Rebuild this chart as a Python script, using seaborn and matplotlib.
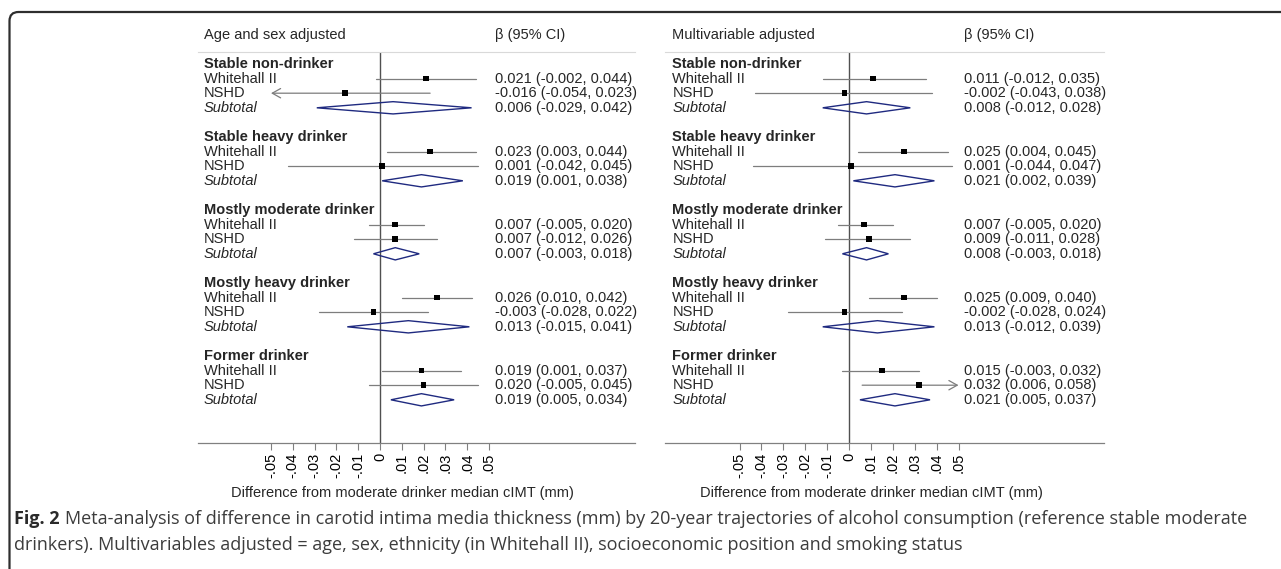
import matplotlib
matplotlib.use("Agg")
import matplotlib.pyplot as plt
import matplotlib.patches as mpatches
from matplotlib.transforms import IdentityTransform
import pandas as pd
import seaborn as sns

# Data: for every group the rows are Whitehall II, NSHD, Subtotal
groups = ["Stable non-drinker", "Stable heavy drinker", "Mostly moderate drinker",
          "Mostly heavy drinker", "Former drinker"]
studies = ["Whitehall II", "NSHD", "Subtotal"]

age_sex_est = [0.021, -0.016, 0.006, 0.023, 0.001, 0.019, 0.007, 0.007, 0.007,
               0.026, -0.003, 0.013, 0.019, 0.020, 0.019]
age_sex_lo = [-0.002, -0.054, -0.029, 0.003, -0.042, 0.001, -0.005, -0.012, -0.003,
              0.010, -0.028, -0.015, 0.001, -0.005, 0.005]
age_sex_hi = [0.044, 0.023, 0.042, 0.044, 0.045, 0.038, 0.020, 0.026, 0.018,
              0.042, 0.022, 0.041, 0.037, 0.045, 0.034]

multi_est = [0.011, -0.002, 0.008, 0.025, 0.001, 0.021, 0.007, 0.009, 0.008,
             0.025, -0.002, 0.013, 0.015, 0.032, 0.021]
multi_lo = [-0.012, -0.043, -0.012, 0.004, -0.044, 0.002, -0.005, -0.011, -0.003,
            0.009, -0.028, -0.012, -0.003, 0.006, 0.005]
multi_hi = [0.035, 0.038, 0.028, 0.045, 0.047, 0.039, 0.020, 0.028, 0.018,
            0.040, 0.024, 0.039, 0.032, 0.058, 0.037]

panel_titles = ["Age and sex adjusted", "Multivariable adjusted"]
tick_values = [-0.05, -0.04, -0.03, -0.02, -0.01, 0, 0.01, 0.02, 0.03, 0.04, 0.05]
tick_labels = ["-.05", "-.04", "-.03", "-.02", "-.01", "0", ".01", ".02", ".03", ".04", ".05"]
x_label = "Difference from moderate drinker median cIMT (mm)"
caption_bold = "Fig. 2"
caption_1 = ("Meta-analysis of difference in carotid intima media thickness (mm) by 20-year "
             "trajectories of alcohol consumption (reference stable moderate")
caption_2 = ("drinkers). Multivariables adjusted = age, sex, ethnicity (in Whitehall II), "
             "socioeconomic position and smoking status")


def make_frame(est, lo, hi):
    rows = []
    for i, (e, l, h) in enumerate(zip(est, lo, hi)):
        g, s = divmod(i, 3)
        rows.append({"group": groups[g], "study": studies[s], "est": e, "lo": l, "hi": h,
                     "row": 5 * g + 1 + s})
    return pd.DataFrame(rows)


panels = [make_frame(age_sex_est, age_sex_lo, age_sex_hi),
          make_frame(multi_est, multi_lo, multi_hi)]

sns.set_theme(style="white")
plt.rcParams["font.family"] = ["Liberation Sans", "DejaVu Sans"]

W, H = 1281, 569
fig = plt.figure(figsize=(W / 100, H / 100), dpi=100)

# pixel layout: (left, right, zero line, px per unit) of each plot area
layouts = [(198, 635, 380, 2180), (665, 1104, 849, 2190)]
top_px, bottom_px, row0_px, row_step = 52, 443, 64, 14.6
CLIP = 0.05
label_x, est_x = -0.0807, 0.0527
FS = 10.5
ci_color = "#7d7d7d"
diamond_color = "#1f2a80"

for ax_i, (df, title) in enumerate(zip(panels, panel_titles)):
    x0, x1, zero, scale = layouts[ax_i]
    ax = fig.add_axes([x0 / W, (H - bottom_px) / H, (x1 - x0) / W, (bottom_px - top_px) / H])
    ax.set_xlim(-(zero - x0) / scale, (x1 - zero) / scale)
    ax.set_ylim((bottom_px - row0_px) / row_step, (top_px - row0_px) / row_step)

    ax.axvline(0, color="#505050", lw=1.0, zorder=1)

    single = df[df["study"] != "Subtotal"]
    for _, r in single.iterrows():
        if r["lo"] < -CLIP:
            ax.annotate("", xy=(-CLIP, r["row"]), xytext=(r["hi"], r["row"]),
                        arrowprops=dict(arrowstyle="->,head_length=0.5,head_width=0.28",
                                        color=ci_color, lw=0.9, shrinkA=0, shrinkB=0))
        elif r["hi"] > CLIP:
            ax.annotate("", xy=(CLIP, r["row"]), xytext=(r["lo"], r["row"]),
                        arrowprops=dict(arrowstyle="->,head_length=0.5,head_width=0.28",
                                        color=ci_color, lw=0.9, shrinkA=0, shrinkB=0))
        else:
            ax.plot([r["lo"], r["hi"]], [r["row"], r["row"]], color=ci_color, lw=0.9, zorder=2)
    sns.scatterplot(data=single, x="est", y="row", marker="s", color="black", s=17,
                    edgecolor="none", legend=False, ax=ax, zorder=3)

    subtotal = df[df["study"] == "Subtotal"]
    for _, r in subtotal.iterrows():
        y = r["row"]
        ax.add_patch(mpatches.Polygon([(r["lo"], y), (r["est"], y - 0.42), (r["hi"], y),
                                       (r["est"], y + 0.42)], closed=True, fill=False,
                                      edgecolor=diamond_color, lw=1.0, zorder=3))

    # text columns
    ax.text(label_x, -2, title, fontsize=FS, va="center", ha="left", clip_on=False)
    ax.text(est_x, -2, "β (95% CI)", fontsize=FS, va="center", ha="left", clip_on=False)
    for g_i, g in enumerate(groups):
        ax.text(label_x, 5 * g_i, g, fontsize=FS, fontweight="bold", va="center", ha="left")
    for _, r in df.iterrows():
        style = "italic" if r["study"] == "Subtotal" else "normal"
        ax.text(label_x, r["row"], r["study"], fontsize=FS, style=style, va="center", ha="left")
        ax.text(est_x, r["row"], f"{r['est']:.3f} ({r['lo']:.3f}, {r['hi']:.3f})",
                fontsize=FS, va="center", ha="left")

    ax.set_xticks(tick_values)
    ax.set_xticklabels(tick_labels)
    ax.set_yticks([])
    ax.set_xlabel("")
    ax.set_ylabel("")
    ax.tick_params(axis="x", bottom=True, direction="out", length=5, width=0.8,
                   color="#808080", labelcolor="black", labelrotation=90, labelsize=10.5, pad=2)
    for side in ["left", "right"]:
        ax.spines[side].set_visible(False)
    ax.spines["top"].set_color("#d9d9d9")
    ax.spines["top"].set_linewidth(0.8)
    ax.spines["bottom"].set_color("#808080")
    ax.spines["bottom"].set_linewidth(0.9)

    fig.text((zero + 22) / W, 1 - 493 / H, x_label, fontsize=10.5, ha="center", va="center")

# caption
cap_font = ["Open Sans", "DejaVu Sans"]
cap_fs = 12.95
cap_color = "#3c3c3c"
t = fig.text(14 / W, 1 - 519 / H, caption_bold, fontsize=cap_fs, fontweight="bold",
             family=cap_font, color="#2a2a2a", va="center", ha="left")
fig.canvas.draw()
bb = t.get_window_extent()
fig.text((bb.x1 + 5) / W, 1 - 519 / H, caption_1, fontsize=cap_fs, family=cap_font,
         color=cap_color, va="center", ha="left")
fig.text(14 / W, 1 - 545 / H, caption_2, fontsize=cap_fs, family=cap_font,
         color=cap_color, va="center", ha="left")

# rounded frame, only the top-left corner is in view
frame = mpatches.FancyBboxPatch((9.5, -40), W + 60, (H - 12) + 40,
                                boxstyle="round,pad=0,rounding_size=9",
                                fill=False, edgecolor="#2e2e2e", lw=1.6,
                                transform=IdentityTransform())
fig.add_artist(frame)

fig.savefig("out.png", dpi=100)
